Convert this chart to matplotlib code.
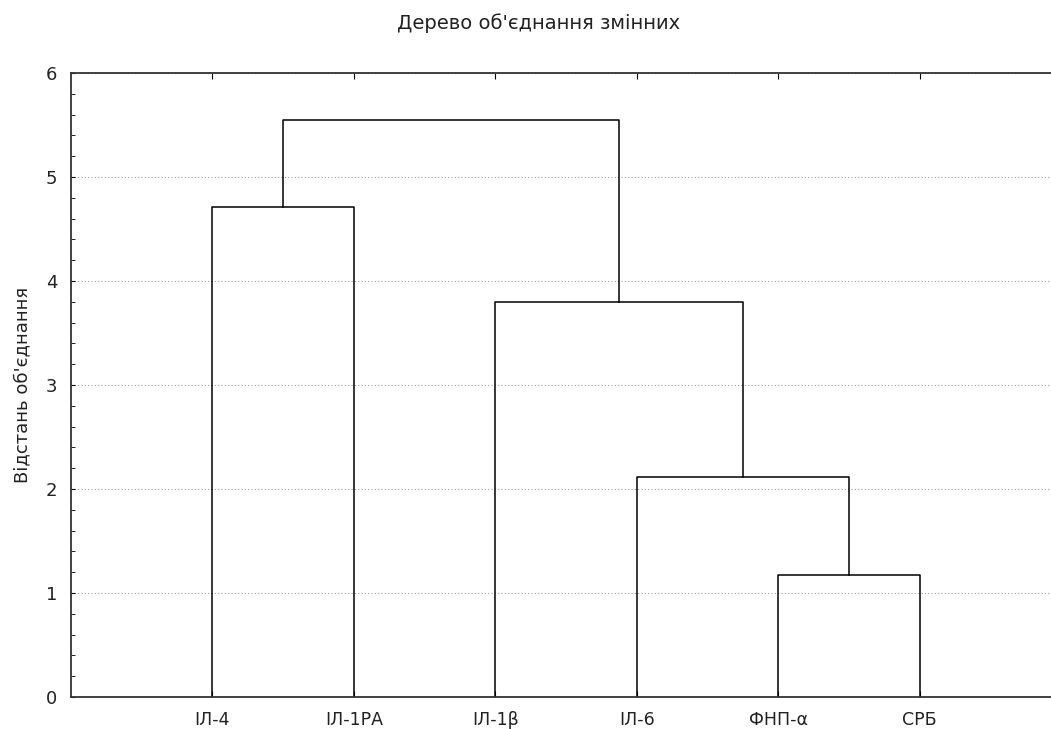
import matplotlib
import matplotlib.pyplot as plt

matplotlib.use('Agg')

labels = ['ІЛ-4', 'ІЛ-1РА', 'ІЛ-1β', 'ІЛ-6', 'ФНП-α', 'СРБ']
# merges: (node a, node b, distance); nodes 0..5 are leaves, 6.. are clusters
merge_a = [4, 3, 2, 0, 9]
merge_b = [5, 6, 7, 1, 8]
merge_h = [1.17, 2.12, 3.80, 4.71, 5.55]

plt.rcParams['font.family'] = ['DejaVu Sans']

fig = plt.figure(figsize=(10.51, 7.29), dpi=100)
ax = fig.add_axes([0.0676, 0.0439, 0.942, 0.856])

node_x = {i: i + 1 for i in range(len(labels))}
node_y = {i: 0.0 for i in range(len(labels))}
for k, (a, b, h) in enumerate(zip(merge_a, merge_b, merge_h)):
    xa, xb = node_x[a], node_x[b]
    ax.plot([xa, xa, xb, xb], [node_y[a], h, h, node_y[b]], color='black', lw=1.1)
    new = len(labels) + k
    node_x[new] = (xa + xb) / 2
    node_y[new] = h

ax.set_xlim(0, 7)
ax.set_ylim(0, 6)
ax.set_xticks(range(1, len(labels) + 1))
ax.set_xticklabels(labels, fontsize=12.5, color='#222222')
ax.set_yticks(range(0, 7))
ax.set_yticks([i * 0.2 for i in range(31)], minor=True)
ax.tick_params(axis='y', which='both', direction='in', labelsize=13, length=3, pad=10,
               labelcolor='#222222')
ax.tick_params(axis='x', direction='in', length=4, top=True, bottom=True, pad=10)
ax.yaxis.grid(True, which='major', linestyle=(0, (1, 2)), color='#999999', lw=0.8)
ax.set_axisbelow(True)

for side in ['left', 'top', 'bottom']:
    ax.spines[side].set_color('#333333')
    ax.spines[side].set_linewidth(1.3)
ax.spines['right'].set_visible(False)

ax.set_ylabel("Відстань об'єднання", fontsize=13, labelpad=10, color='#222222')
fig.text(0.512, 0.968, "Дерево об'єднання змінних", ha='center', va='center',
         fontsize=14, color='#222222')

plt.savefig('out.png', dpi=100)
plt.close()
